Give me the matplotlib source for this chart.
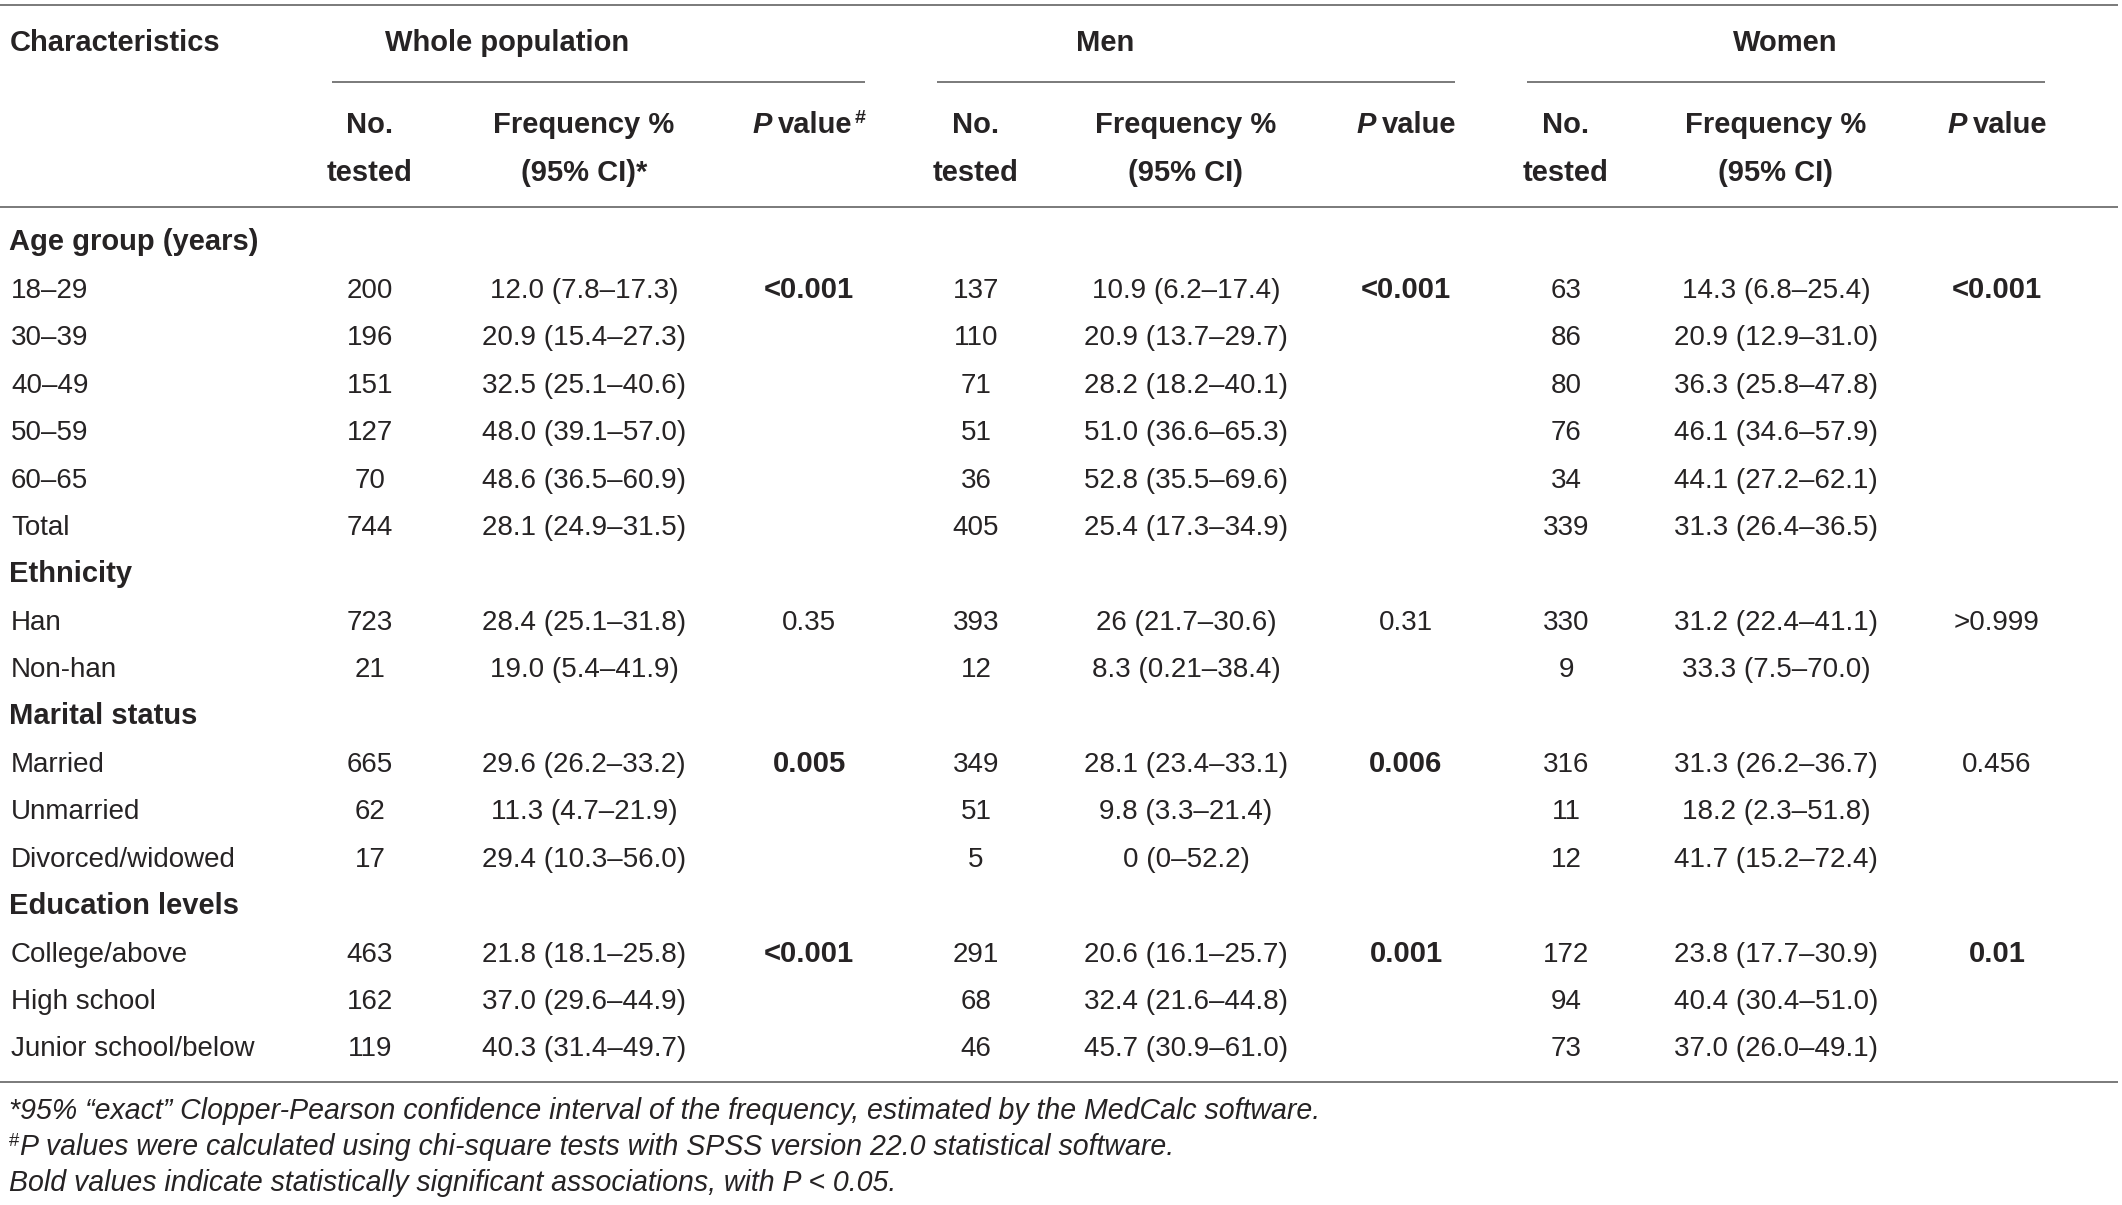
import matplotlib.pyplot as plt
from matplotlib import font_manager

# ---- table data ----
sections = ['Age group (years)', 'Ethnicity', 'Marital status', 'Education levels']
section_sizes = [6, 2, 3, 3]

row_labels = ['18–29', '30–39', '40–49', '50–59', '60–65', 'Total',
              'Han', 'Non-han',
              'Married', 'Unmarried', 'Divorced/widowed',
              'College/above', 'High school', 'Junior school/below']

whole_n = [200, 196, 151, 127, 70, 744, 723, 21, 665, 62, 17, 463, 162, 119]
whole_freq = ['12.0 (7.8–17.3)', '20.9 (15.4–27.3)', '32.5 (25.1–40.6)', '48.0 (39.1–57.0)',
              '48.6 (36.5–60.9)', '28.1 (24.9–31.5)', '28.4 (25.1–31.8)', '19.0 (5.4–41.9)',
              '29.6 (26.2–33.2)', '11.3 (4.7–21.9)', '29.4 (10.3–56.0)', '21.8 (18.1–25.8)',
              '37.0 (29.6–44.9)', '40.3 (31.4–49.7)']
whole_p = ['<0.001', '0.35', '0.005', '<0.001']

men_n = [137, 110, 71, 51, 36, 405, 393, 12, 349, 51, 5, 291, 68, 46]
men_freq = ['10.9 (6.2–17.4)', '20.9 (13.7–29.7)', '28.2 (18.2–40.1)', '51.0 (36.6–65.3)',
            '52.8 (35.5–69.6)', '25.4 (17.3–34.9)', '26 (21.7–30.6)', '8.3 (0.21–38.4)',
            '28.1 (23.4–33.1)', '9.8 (3.3–21.4)', '0 (0–52.2)', '20.6 (16.1–25.7)',
            '32.4 (21.6–44.8)', '45.7 (30.9–61.0)']
men_p = ['<0.001', '0.31', '0.006', '0.001']

women_n = [63, 86, 80, 76, 34, 339, 330, 9, 316, 11, 12, 172, 94, 73]
women_freq = ['14.3 (6.8–25.4)', '20.9 (12.9–31.0)', '36.3 (25.8–47.8)', '46.1 (34.6–57.9)',
              '44.1 (27.2–62.1)', '31.3 (26.4–36.5)', '31.2 (22.4–41.1)', '33.3 (7.5–70.0)',
              '31.3 (26.2–36.7)', '18.2 (2.3–51.8)', '41.7 (15.2–72.4)', '23.8 (17.7–30.9)',
              '40.4 (30.4–51.0)', '37.0 (26.0–49.1)']
women_p = ['<0.001', '>0.999', '0.456', '0.01']

group_names = ['Whole population', 'Men', 'Women']
footnotes = ['*95% “exact” Clopper-Pearson confidence interval of the frequency, estimated by the MedCalc software.',
             'P values were calculated using chi-square tests with SPSS version 22.0 statistical software.',
             'Bold values indicate statistically significant associations, with P < 0.05.']


def significant(p):
    # bold when P < 0.05
    v = float(p.lstrip('<>'))
    return p.startswith('<') or (not p.startswith('>') and v < 0.05)


# ---- layout (pixel units, 1 data unit = 1 px) ----
W, H = 2122, 1205
x_label = 10
x_n = [370, 976, 1566]
x_freq = [584, 1186, 1776]
x_p = [809, 1406, 1997]
x_group = [507, 1105, 1785]
group_lines = [(332, 865), (937, 1455), (1527, 2045)]
row0, row_step = 240.5, 47.4
base = 10  # baseline offset from visual middle of the digits

ink = '#262324'
rule = '#7a7a7a'

body_font = 'Liberation Sans'
try:
    font_manager.findfont('Liberation Sans Narrow', fallback_to_default=False)
    note_font = 'Liberation Sans Narrow'
except Exception:
    note_font = 'Liberation Sans'

plt.rcParams['font.family'] = [body_font, 'DejaVu Sans']

fig = plt.figure(figsize=(W / 100, H / 100), dpi=100)
ax = fig.add_axes([0, 0, 1, 1])
ax.set_xlim(0, W)
ax.set_ylim(H, 0)
ax.axis('off')
renderer = fig.canvas.get_renderer()

body = dict(fontsize=20, color=ink)
bold = dict(fontsize=21, color=ink, fontweight='bold')
bold_it = dict(fontsize=21, color=ink, fontweight='bold', fontstyle='italic')
sup = dict(fontsize=14, color=ink, fontweight='bold')


def width_of(s, style):
    t = ax.text(0, 0, s, **style)
    w = t.get_window_extent(renderer).width
    t.remove()
    return w


def draw_runs(xc, y, runs):
    # runs: (text, style, gap before, raise)
    widths = [width_of(r[0], r[1]) for r in runs]
    total = sum(widths) + sum(r[2] for r in runs)
    x = xc - total / 2
    for (s, st, gap, up), w in zip(runs, widths):
        x += gap
        ax.text(x, y - up, s, ha='left', va='baseline', **st)
        x += w


def hline(y, x0, x1):
    ax.plot([x0, x1], [y, y], color=rule, lw=1.4, solid_capstyle='butt')


# rules
hline(5, 0, W - 4)
for x0, x1 in group_lines:
    hline(82, x0, x1)
hline(207, 0, W - 4)
hline(1082, 0, W - 4)

# header
ax.text(x_label, 41 + base, 'Characteristics', ha='left', va='baseline', **bold)
for g, name in enumerate(group_names):
    ax.text(x_group[g], 41 + base, name, ha='center', va='baseline', **bold)
    ax.text(x_n[g], 123 + base, 'No.', ha='center', va='baseline', **bold)
    ax.text(x_n[g], 171 + base, 'tested', ha='center', va='baseline', **bold)
    ax.text(x_freq[g], 123 + base, 'Frequency %', ha='center', va='baseline', **bold)
    ax.text(x_freq[g], 171 + base, '(95% CI)*' if g == 0 else '(95% CI)',
            ha='center', va='baseline', **bold)
    runs = [('P', bold_it, 0, 0), ('value', bold, 6, 0)]
    if g == 0:
        runs.append(('#', sup, 2, 10))
    draw_runs(x_p[g], 123 + base, runs)

# body
ns = [whole_n, men_n, women_n]
freqs = [whole_freq, men_freq, women_freq]
ps = [whole_p, men_p, women_p]

line = 0
item = 0
for s, (sec, size) in enumerate(zip(sections, section_sizes)):
    y = row0 + row_step * line
    ax.text(x_label - 1, y + base, sec, ha='left', va='baseline', **bold)
    line += 1
    for k in range(size):
        y = row0 + row_step * line
        ax.text(x_label + 1, y + base, row_labels[item], ha='left', va='baseline', **body)
        for g in range(3):
            ax.text(x_n[g], y + base, str(ns[g][item]), ha='center', va='baseline', **body)
            ax.text(x_freq[g], y + base, freqs[g][item], ha='center', va='baseline', **body)
            if k == 0:
                p = ps[g][s]
                ax.text(x_p[g], y + base, p, ha='center', va='baseline',
                        **(bold if significant(p) else body))
        line += 1
        item += 1

# footnotes, sized to the width they take in the table
note_style = dict(color=ink, fontstyle='italic', family=[note_font, 'DejaVu Sans'])
fs = 20 * 1308 / width_of(footnotes[0], dict(note_style, fontsize=20))
note = dict(note_style, fontsize=fs)
sup_note = dict(color=ink, family=[note_font, 'DejaVu Sans'], fontsize=fs * 0.65)
note_y = [1109, 1145, 1181]
ax.text(9, note_y[0] + base, footnotes[0], ha='left', va='baseline', **note)
ax.text(9, note_y[1] + base - 9, '#', ha='left', va='baseline', **sup_note)
ax.text(9 + width_of('#', sup_note) + 1, note_y[1] + base, footnotes[1],
        ha='left', va='baseline', **note)
ax.text(9, note_y[2] + base, footnotes[2], ha='left', va='baseline', **note)

fig.savefig('out.png', dpi=100, facecolor='white')
